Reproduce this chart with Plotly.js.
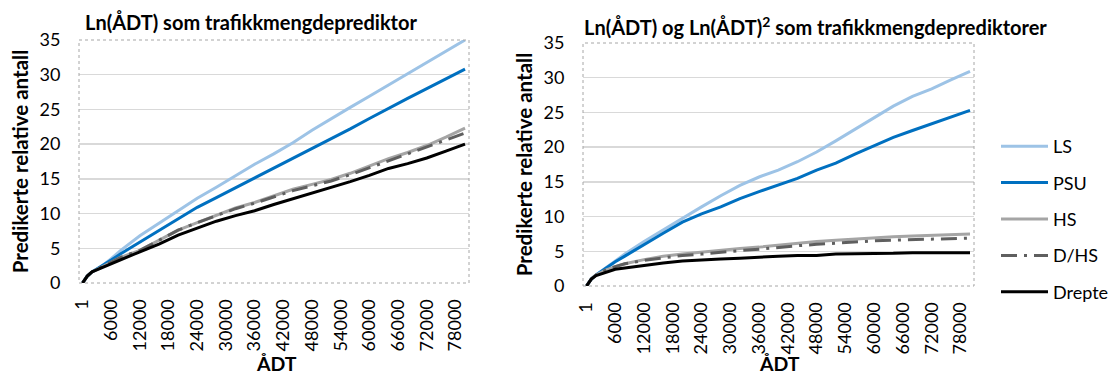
<!DOCTYPE html>
<html>
<head>
<meta charset="utf-8">
<script src="https://cdn.plot.ly/plotly-3.0.1.min.js"></script>
<style>
html,body{margin:0;padding:0;background:#fff;}
#chart{width:1115px;height:376px;}
</style>
</head>
<body>
<div id="chart"></div>
<script>
// ÅDT categories (x positions)
var adt = [1, 1000, 2000, 4000, 6000, 8000, 12000, 16000, 20000, 24000, 28000, 32000, 36000, 40000, 44000, 48000, 52000, 56000, 60000, 64000, 68000, 72000, 76000, 80000];
var tickValues = [1, 6000, 12000, 18000, 24000, 30000, 36000, 42000, 48000, 54000, 60000, 66000, 72000, 78000];
var tickLabels = ["1", "6000", "12000", "18000", "24000", "30000", "36000", "42000", "48000", "54000", "60000", "66000", "72000", "78000"];
var seriesNames = ["LS", "PSU", "HS", "D/HS", "Drepte"];

// Left chart: Ln(ÅDT)
var lsA     = [0, 1.0, 1.6, 2.4, 3.5, 4.7, 6.8, 8.6, 10.4, 12.2, 13.8, 15.5, 17.1, 18.6, 20.2, 22.0, 23.7, 25.3, 26.9, 28.5, 30.1, 31.7, 33.3, 35.0];
var psuA    = [0, 1.0, 1.6, 2.4, 3.3, 4.2, 5.9, 7.6, 9.3, 10.9, 12.3, 13.7, 15.1, 16.5, 17.9, 19.4, 20.8, 22.2, 23.7, 25.2, 26.6, 28.0, 29.4, 30.8];
var hsA     = [0, 1.0, 1.6, 2.3, 3.0, 3.7, 4.7, 6.1, 7.6, 8.7, 9.8, 10.8, 11.6, 12.6, 13.5, 14.2, 14.9, 15.8, 16.9, 17.9, 18.8, 19.8, 21.0, 22.3];
var dhsA    = [0, 1.0, 1.6, 2.3, 3.0, 3.7, 4.7, 6.1, 7.6, 8.7, 9.7, 10.7, 11.5, 12.4, 13.3, 14.0, 14.7, 15.6, 16.6, 17.6, 18.5, 19.5, 20.6, 21.6];
var drepteA = [0, 1.0, 1.6, 2.2, 2.8, 3.4, 4.5, 5.6, 6.9, 7.9, 8.9, 9.7, 10.4, 11.3, 12.1, 12.9, 13.7, 14.6, 15.5, 16.5, 17.2, 18.0, 19.0, 20.0];

// Right chart: Ln(ÅDT) og Ln(ÅDT)^2
var lsB     = [0, 1.0, 1.6, 2.6, 3.6, 4.6, 6.4, 8.1, 9.8, 11.4, 13.0, 14.5, 15.7, 16.7, 17.9, 19.3, 20.9, 22.6, 24.3, 25.9, 27.3, 28.4, 29.7, 30.9];
var psuB    = [0, 1.0, 1.6, 2.6, 3.5, 4.3, 6.0, 7.6, 9.2, 10.4, 11.4, 12.6, 13.6, 14.5, 15.5, 16.7, 17.7, 19.0, 20.2, 21.4, 22.4, 23.4, 24.4, 25.3];
var hsB     = [0, 1.0, 1.6, 2.3, 2.8, 3.2, 3.8, 4.3, 4.6, 4.9, 5.2, 5.4, 5.6, 5.9, 6.2, 6.4, 6.6, 6.8, 7.0, 7.1, 7.2, 7.3, 7.5, 7.5];
var dhsB    = [0, 1.0, 1.6, 2.3, 2.8, 3.2, 3.7, 4.1, 4.4, 4.6, 4.9, 5.1, 5.3, 5.6, 5.8, 6.0, 6.2, 6.3, 6.5, 6.6, 6.7, 6.8, 6.9, 6.9];
var drepteB = [0, 1.0, 1.5, 2.0, 2.4, 2.6, 3.0, 3.3, 3.6, 3.8, 3.9, 4.0, 4.2, 4.3, 4.4, 4.4, 4.6, 4.6, 4.6, 4.7, 4.8, 4.8, 4.8, 4.8];

var styles = [
  {color: "#9DC3E6", width: 3, dash: "solid"},
  {color: "#0070C0", width: 3, dash: "solid"},
  {color: "#A5A5A5", width: 3, dash: "solid"},
  {color: "#5F5F5F", width: 3, dash: "16px,7px,3px,7px"},
  {color: "#000000", width: 3, dash: "solid"}
];

var seriesA = [lsA, psuA, hsA, dhsA, drepteA];
var seriesB = [lsB, psuB, hsB, dhsB, drepteB];
var traces = [];
seriesA.forEach(function (ys, k) {
  traces.push({x: adt, y: ys, xaxis: "x", yaxis: "y", type: "scatter", mode: "lines",
    name: seriesNames[k], showlegend: false, line: styles[k], hoverinfo: "skip"});
});
seriesB.forEach(function (ys, k) {
  traces.push({x: adt, y: ys, xaxis: "x2", yaxis: "y2", type: "scatter", mode: "lines",
    name: seriesNames[k], legendgroup: "g" + k, showlegend: true, line: styles[k], hoverinfo: "skip"});
});

var W = 1115, H = 376;
var F = "Lato, 'Open Sans', sans-serif";
function xaxisDef(d0, d1, anchor) {
  return {
    domain: [d0 / W, d1 / W], anchor: anchor, range: [-730, 80830],
    tickmode: "array", tickvals: tickValues, ticktext: tickLabels, tickangle: -90,
    tickfont: {family: F, size: 18, color: "#000"}, showgrid: false, zeroline: false,
    showline: false, ticks: "outside", ticklen: 8, tickcolor: "rgba(0,0,0,0)"
  };
}
function yaxisDef(top, bottom, anchor) {
  return {
    domain: [(H - bottom) / H, (H - top) / H], anchor: anchor, range: [0, 35],
    tickmode: "array", tickvals: [0, 5, 10, 15, 20, 25, 30, 35],
    tickfont: {family: F, size: 18, color: "#000"},
    showgrid: true, gridcolor: "#D9D9D9", gridwidth: 1.3, zeroline: false, showline: false,
    ticks: "outside", ticklen: 14, tickcolor: "rgba(0,0,0,0)",
    title: {text: "<b>Predikerte relative antall</b>", font: {family: F, size: 20.5, color: "#000"}, standoff: 5}
  };
}

var layout = {
  width: W, height: H,
  margin: {l: 0, r: 0, t: 0, b: 0},
  paper_bgcolor: "#fff", plot_bgcolor: "#fff",
  font: {family: F, color: "#000"},
  xaxis: xaxisDef(79, 469, "y"),
  yaxis: yaxisDef(40, 283, "x"),
  xaxis2: xaxisDef(583, 974, "y2"),
  yaxis2: yaxisDef(43, 286, "x2"),
  showlegend: true,
  legend: {
    x: 996 / W, y: (H - 128) / H, xanchor: "left", yanchor: "top",
    font: {family: F, size: 18, color: "#000"},
    itemwidth: 47, tracegroupgap: 10, bgcolor: "rgba(0,0,0,0)", borderwidth: 0
  },
  shapes: [
    {type: "rect", xref: "x domain", yref: "y domain", x0: 0, x1: 1, y0: 0, y1: 1,
     line: {color: "#A6A6A6", width: 1, dash: "dot"}, layer: "above"},
    {type: "rect", xref: "x2 domain", yref: "y2 domain", x0: 0, x1: 1, y0: 0, y1: 1,
     line: {color: "#A6A6A6", width: 1, dash: "dot"}, layer: "above"}
  ],
  annotations: [
    {text: "<b>Ln(ÅDT) som trafikkmengdeprediktor</b>", xref: "paper", yref: "paper",
     x: 83 / W, y: (H - 22) / H, xanchor: "left", yanchor: "middle", showarrow: false,
     font: {family: F, size: 20, color: "#000"}},
    {text: "<b>Ln(ÅDT) og Ln(ÅDT)<sup>2</sup> som trafikkmengdeprediktorer</b>", xref: "paper", yref: "paper",
     x: 582 / W, y: (H - 26) / H, xanchor: "left", yanchor: "middle", showarrow: false,
     font: {family: F, size: 20, color: "#000"}},
    {text: "<b>ÅDT</b>", xref: "paper", yref: "paper",
     x: 276 / W, y: 0, xanchor: "center", yanchor: "bottom", showarrow: false, borderpad: 0,
     font: {family: F, size: 19.5, color: "#000"}},
    {text: "<b>ÅDT</b>", xref: "paper", yref: "paper",
     x: 779 / W, y: 0, xanchor: "center", yanchor: "bottom", showarrow: false, borderpad: 0,
     font: {family: F, size: 19.5, color: "#000"}}
  ]
};

Plotly.newPlot("chart", traces, layout, {displayModeBar: false, staticPlot: true});
</script>
</body>
</html>
